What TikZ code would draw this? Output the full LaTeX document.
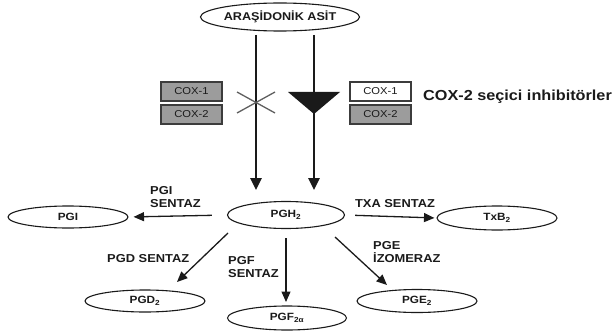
\documentclass[tikz,border=0pt]{standalone}
\usepackage{fontspec}
\setmainfont{Liberation Sans}[FakeStretch=1.12]
\usetikzlibrary{shapes.geometric,arrows.meta}
\definecolor{ink}{HTML}{1A1A1A}
\definecolor{boxgray}{HTML}{9C9C9C}
\tikzset{
  oval/.style={ellipse,draw=ink,line width=1.1pt,inner sep=0pt,font=\fontsize{10.5}{12}\selectfont\bfseries,text=ink},
  coxbox/.style={draw=ink!85,line width=1.3pt,minimum width=61pt,minimum height=19pt,inner sep=0pt,font=\fontsize{10}{12}\selectfont,text=ink},
  lbl/.style={font=\fontsize{11.5}{13}\selectfont\bfseries,text=ink,inner sep=0pt,align=left},
  bigarrow/.style={draw=ink,line width=2.6pt,-{Triangle[length=12pt,width=11pt]}},
  smallarrow/.style={draw=ink,line width=1.3pt,-{Triangle[length=10.5pt,width=9pt]}},
}
\begin{document}
\begin{tikzpicture}[x=1pt,y=-1pt]
\useasboundingbox (0,0) rectangle (612,334);
% nodes
\node[oval,minimum width=135pt,minimum height=28pt,font=\fontsize{11.3}{12}\selectfont\bfseries] (ara) at (280,17) {ARAŞİDONİK ASİT};
\node[oval,minimum width=117pt,minimum height=27pt] (pgh) at (286,215) {PGH\textsubscript{2}};
\node[oval,minimum width=120pt,minimum height=22pt] (pgi) at (68,217) {PGI};
\node[oval,minimum width=120pt,minimum height=24pt] (txb) at (497,218) {TxB\textsubscript{2}};
\node[oval,minimum width=120pt,minimum height=22pt] (pgd) at (145,301) {PGD\textsubscript{2}};
\node[oval,minimum width=119pt,minimum height=24pt] (pgf) at (287,318) {PGF\textsubscript{2α}};
\node[oval,minimum width=120pt,minimum height=23pt] (pge) at (417,301) {PGE\textsubscript{2}};
% COX boxes
\node[coxbox,fill=boxgray] (lc1) at (191.5,91.5) {COX-1};
\node[coxbox,fill=boxgray] (lc2) at (191.5,114.5) {COX-2};
\node[coxbox,fill=white] (rc1) at (380.5,91.5) {COX-1};
\node[coxbox,fill=boxgray] (rc2) at (380.5,114.5) {COX-2};
\node[anchor=west,inner sep=0pt,font=\fontsize{14.5}{17}\selectfont\bfseries,text=ink] (sel) at (423,97) {COX-2 seçici inhibitörler};
% vertical arrows
\coordinate (la) at (256,35);
\coordinate (lb) at (256,190);
\coordinate (ra) at (314,35);
\coordinate (rb) at (314,190);
\draw[bigarrow] (la) -- (lb);
\draw[bigarrow] (ra) -- (rb);
% cross
\coordinate (x1) at (237,92);
\coordinate (x2) at (275,113);
\coordinate (x3) at (237,113);
\coordinate (x4) at (275,92);
\draw[ink!70,line width=1.3pt] (x1) -- (x2);
\draw[ink!70,line width=1.3pt] (x3) -- (x4);
% triangle
\coordinate (t1) at (288,92);
\coordinate (t2) at (340,92);
\coordinate (t3) at (314,114);
\fill[ink] (t1) -- (t2) -- (t3) -- cycle;
% enzyme arrows
\draw[smallarrow,shorten <=15pt,shorten >=5pt] (pgh.west) -- (pgi.east);
\draw[smallarrow,shorten <=10pt,shorten >=2pt] (pgh.east) -- (txb.west);
\coordinate (d1) at (228,233);
\coordinate (d2) at (177,282);
\draw[smallarrow] (d1) -- (d2);
\coordinate (f1) at (286,238);
\coordinate (f2) at (286,302);
\draw[smallarrow] (f1) -- (f2);
\coordinate (e1) at (335,237);
\coordinate (e2) at (387,285);
\draw[smallarrow] (e1) -- (e2);
% labels
\node[lbl,anchor=north west] (lpgi) at (150,186) {PGI\\SENTAZ};
\node[lbl,anchor=base] (ltxa) at (395,207) {TXA SENTAZ};
\node[lbl,anchor=base west] (lpgd) at (107,262) {PGD SENTAZ};
\node[lbl,anchor=north west] (lpgf) at (228,256) {PGF\\SENTAZ};
\node[lbl,anchor=north west] (lpge) at (373,241) {PGE\\İZOMERAZ};
\end{tikzpicture}
\end{document}
